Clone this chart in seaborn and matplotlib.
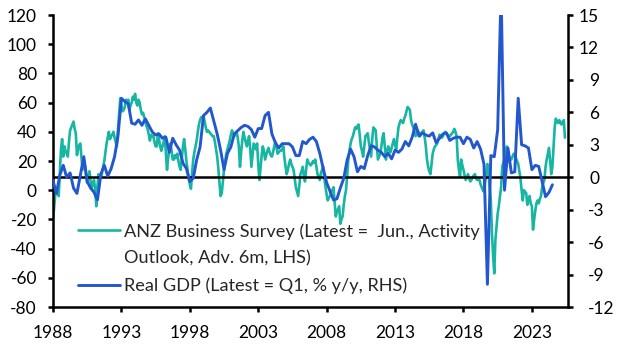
import matplotlib
matplotlib.use("Agg")
import numpy as np
import pandas as pd
import matplotlib.pyplot as plt
import matplotlib.transforms as mtransforms
import seaborn as sns
from matplotlib.lines import Line2D

# ---------------- data ----------------
# ANZ Business Outlook, activity outlook (net %), monthly, plotted advanced 6 months
# first plotted month: Jul 1988 (survey month Jan 1988 + 6m); last: Dec 2025 (Jun 2025 + 6m)
anz_values = [
    -20, -12, -3, -1, -2, -4, 12, 28, 35, 23, 30, 27,
    25, 23, 33, 41, 43, 45, 47, 42, 39, 24, 28, 31,
    32, 22, 14, 20, 17, 10, 5, 9, 13, 6, 2, 5,
    7, 0, -11, 3, 11, 8, 9, 12, 16, 20, 26, 32,
    36, 40, 35, 37, 38, 40, 36, 33, 30, 42, 52, 63,
    58, 54, 55, 57, 62, 60, 62, 55, 58, 60, 64, 62,
    66, 60, 58, 62, 60, 55, 52, 53, 50, 47, 44, 42,
    38, 34, 38, 37, 37, 33, 30, 30, 39, 35, 30, 27,
    30, 33, 37, 25, 14, 22, 28, 32, 27, 21, 21, 24,
    22, 25, 20, 16, 14, 22, 30, 35, 28, 20, 14, 8,
    4, 1, 12, 21, 26, 30, 34, 40, 45, 48, 50, 50,
    51, 47, 43, 40, 41, 40, 39, 38, 37, 37, 33, 28,
    23, 15, 5, -4, -2, 6, 14, 20, 25, 28, 31, 34,
    38, 41, 39, 37, 38, 40, 36, 30, 16, 26, 34, 40,
    36, 33, 30, 34, 37, 28, 16, 24, 32, 30, 28, 32,
    18, 7, 15, 24, 30, 27, 21, 24, 27, 29, 26, 24,
    23, 26, 30, 33, 29, 25, 26, 27, 27, 28, 30, 22,
    16, 11, 14, 18, 21, 18, 16, 14, 8, 2, -1, -4,
    3, 11, 13, 16, 10, 6, 14, 21, 19, 18, 17, 18,
    20, 19, 21, 16, 11, 9, 7, 12, 14, 16, 8, 2,
    -3, -7, -5, -4, -1, 0, 2, -8, -18, -15, -13, -11,
    -23, -20, -18, -10, -4, 0, 10, 21, 27, 32, 35, 37,
    40, 43, 42, 44, 45, 38, 30, 27, 23, 30, 37, 38,
    39, 33, 28, 23, 35, 43, 42, 41, 30, 21, 23, 25,
    30, 36, 39, 30, 21, 26, 30, 28, 26, 29, 32, 35,
    31, 28, 36, 43, 46, 48, 47, 46, 49, 51, 54, 57,
    56, 55, 48, 45, 43, 40, 37, 39, 41, 39, 37, 39,
    40, 41, 36, 30, 21, 16, 13, 11, 18, 25, 28, 30,
    31, 32, 35, 38, 37, 36, 37, 39, 40, 39, 38, 37,
    37, 38, 39, 40, 42, 40, 37, 21, 14, 9, 21, 17,
    14, 10, 7, 9, 11, 8, 6, 7, 9, 10, 11, 8,
    7, 8, 7, 4, 2, 0, -1, 5, 12, 18, 11, 2,
    -7, -30, -45, -57, -34, -25, -16, -11, -4, 2, 16, 19,
    21, 25, 30, 27, 23, 22, 21, 23, 25, 24, 22, 20,
    18, 13, 8, 0, -7, 0, -1, -2, -10, -6, -4, -9,
    -11, -27, -20, -14, -9, -7, -9, -6, -4, 2, 5, 7,
    16, 21, 25, 29, 20, 11, 16, 30, 43, 49, 47, 46,
    48, 46, 45, 47, 48, 36,
]
anz_first = (1988, 7)

# Real GDP, % y/y, quarterly, Q3 1988 .. Q1 2025
gdp_values = [
    -0.3, -1.5, 0.2, 1.1, 0.0, 0.4, -1.0, -1.5, 0.2, 1.9,
    -0.4, -1.0, -1.4, -2.1, 0.3, 1.1, 0.1, 0.8, 1.9, 3.8,
    7.3, 7.0, 6.8, 5.0, 4.9, 5.3, 4.8, 5.4, 4.8, 4.2,
    3.9, 4.0, 3.6, 3.7, 2.3, 3.6, 3.0, 2.5, 1.3, 0.8,
    -0.4, -0.1, 1.6, 2.8, 5.7, 6.0, 6.4, 5.2, 4.0, 2.5,
    0.7, 2.2, 2.8, 4.0, 4.3, 4.6, 4.8, 4.7, 4.4, 3.7,
    4.5, 4.5, 5.7, 6.0, 4.0, 3.2, 2.7, 3.1, 3.1, 3.1,
    2.8, 2.0, 2.0, 3.3, 3.1, 3.5, 3.7, 3.3, 2.2, 0.8,
    -0.5, -1.3, -2.1, -2.0, -1.0, -0.1, 1.6, 2.6, 1.9, 0.5,
    1.0, 0.8, 2.0, 2.9, 2.8, 2.5, 2.3, 1.9, 2.2, 1.7,
    2.5, 2.3, 2.6, 3.3, 2.9, 3.7, 4.9, 3.8, 4.1, 3.9,
    3.8, 4.1, 3.2, 3.6, 4.0, 4.1, 3.4, 3.6, 3.7, 3.7,
    3.1, 3.7, 3.5, 2.7, 3.3, 2.6, 1.2,
    -9.9, 2.0, 1.9, 4.4, 17.4, -1.2, 2.7, 0.4, 0.5, 7.3,
    3.0, 2.9, 2.7, 0.7, 1.1, 1.0, -0.4, -1.8, -1.4, -0.7,
]
gdp_first = (1988, 3)

year_ticks = [1988, 1993, 1998, 2003, 2008, 2013, 2018, 2023]
left_ticks = [-80, -60, -40, -20, 0, 20, 40, 60, 80, 100, 120]
right_ticks = [-12, -9, -6, -3, 0, 3, 6, 9, 12, 15]

anz_label_1 = "ANZ Business Survey (Latest =  Jun., Activity"
anz_label_2 = "Outlook, Adv. 6m, LHS)"
gdp_label = "Real GDP (Latest = Q1, % y/y, RHS)"

# ---------------- frames ----------------
anz_t = anz_first[0] + (anz_first[1] - 1) / 12 + np.arange(len(anz_values)) / 12
gdp_t = gdp_first[0] + (gdp_first[1] - 1) / 4 + np.arange(len(gdp_values)) / 4
anz_df = pd.DataFrame({"t": anz_t, "v": anz_values})
gdp_df = pd.DataFrame({"t": gdp_t, "v": gdp_values})

TEAL = "#17B6A3"
BLUE = "#2357CF"

sns.set_style("ticks")
plt.rcParams["font.family"] = ["Lato", "DejaVu Sans"]
FS = 12.5
LFS = 13.1

fig = plt.figure(figsize=(6.27, 3.53), dpi=100)
ax = fig.add_axes([53 / 627, 1 - 307 / 353, (568 - 53) / 627, (307 - 15) / 353])
ax2 = ax.twinx()

sns.lineplot(data=anz_df, x="t", y="v", ax=ax, color=TEAL, lw=1.9, legend=False)
ax2.axhline(0, color="black", lw=1.8, zorder=1)
sns.lineplot(data=gdp_df, x="t", y="v", ax=ax2, color=BLUE, lw=2.1, legend=False, zorder=3)

x0, x1 = 1988.5, 2026.14
ax.set_xlim(x0, x1)
ax.set_ylim(-80, 120)
ax2.set_ylim(-12, 15)
ax.set_xticks([y + 0.5 for y in year_ticks])
ax.set_xticklabels([str(y) for y in year_ticks])
ax.set_yticks(left_ticks)
ax.set_yticklabels([str(v) for v in left_ticks])
ax2.set_yticks(right_ticks)
ax2.set_yticklabels([str(v) for v in right_ticks])
ax.set_xlabel("")
ax.set_ylabel("")
ax2.set_ylabel("")

for a in (ax, ax2):
    for s in a.spines.values():
        s.set_linewidth(1.8)
        s.set_color("black")
    a.spines["top"].set_visible(False)
ax.spines["right"].set_visible(False)
ax2.spines["left"].set_visible(False)
ax2.spines["bottom"].set_visible(False)

ax.tick_params(axis="y", direction="out", length=3.6, width=1.8, labelsize=FS, pad=8, colors="black")
ax.tick_params(axis="x", direction="out", length=3.6, width=1.8, labelsize=FS, pad=9, colors="black")
ax2.tick_params(axis="y", direction="out", length=3.6, width=1.8, labelsize=FS, pad=10.8, colors="black")
# right axis: negatives start at a fixed x, non-negatives end a little further right
shift = mtransforms.ScaledTranslation(11 / 100, 0, fig.dpi_scale_trans)
for lab, val in zip(ax2.get_yticklabels(), right_ticks):
    if val >= 0:
        lab.set_horizontalalignment("right")
        lab.set_transform(lab.get_transform() + shift)
    else:
        lab.set_horizontalalignment("left")

handles = [
    Line2D([], [], color=TEAL, lw=1.9),
    Line2D([], [], color="none", lw=1.9),
    Line2D([], [], color=BLUE, lw=2.1),
]
leg = ax2.legend(handles, [anz_label_1, anz_label_2, gdp_label],
                 loc="upper left", bbox_to_anchor=((78 - 53) / 515, 1 - (223 - 15) / 292),
                 frameon=False, fontsize=LFS, handlelength=2.3, handletextpad=0.25,
                 labelspacing=0.6, borderpad=0, borderaxespad=0)

fig.savefig("out.png", dpi=100)
